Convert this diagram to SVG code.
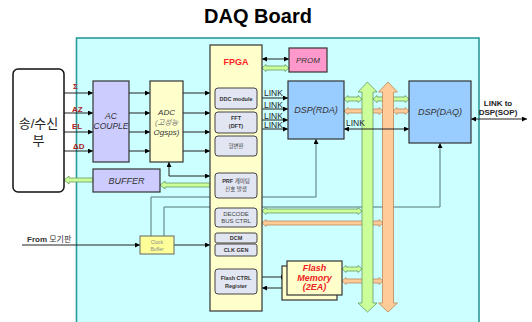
<svg xmlns="http://www.w3.org/2000/svg" width="532" height="322" viewBox="0 0 532 322">
<style>
text{font-family:"Liberation Sans","Noto Sans CJK KR",sans-serif;}
.box{stroke:#333;stroke-width:1.2;}
.sub{fill:#e2e6f2;stroke:#444;stroke-width:1;}
.ln{stroke:#222;stroke-width:1;fill:none;}
.cl{stroke:#557777;stroke-width:1;fill:none;}
.g{fill:#ccff99;stroke:#669966;stroke-width:0.8;}
.o{fill:#ffcc99;stroke:#bb8855;stroke-width:0.8;}
.it{font-style:italic;fill:#333;}
.sb{font-size:5.5px;font-weight:bold;fill:#333;text-anchor:middle;}
.sn{font-size:5.5px;font-weight:normal;fill:#444;text-anchor:middle;}
.sig{font-size:8px;font-weight:bold;fill:#aa2222;}
.lk{font-size:8.5px;fill:#222;}
</style>
<defs>
<marker id="ah" viewBox="0 0 10 10" refX="10" refY="5" markerWidth="5" markerHeight="5" orient="auto-start-reverse" markerUnits="userSpaceOnUse"><path d="M0,0L10,5L0,10z" fill="#000"/></marker>
</defs>
<text x="258" y="23" font-size="20" font-weight="bold" text-anchor="middle" fill="#000">DAQ Board</text>
<rect id="board" x="76.5" y="38" width="402.5" height="290" fill="#ccffff" stroke="#2a9a9a" stroke-width="1.6"/>

<g id="connectors">
<g class="ln" marker-end="url(#ah)">
<line x1="64" y1="93" x2="93" y2="93"/><line x1="64" y1="113" x2="93" y2="113"/><line x1="64" y1="132" x2="93" y2="132"/><line x1="64" y1="151" x2="93" y2="151"/>
<line x1="129" y1="93" x2="150" y2="93"/><line x1="129" y1="113" x2="150" y2="113"/><line x1="129" y1="132" x2="150" y2="132"/><line x1="129" y1="151" x2="150" y2="151"/>
<line x1="183" y1="93" x2="210" y2="93"/><line x1="183" y1="113" x2="210" y2="113"/><line x1="183" y1="132" x2="210" y2="132"/><line x1="183" y1="151" x2="210" y2="151"/>
<line x1="262" y1="98" x2="288" y2="98"/><line x1="262" y1="109" x2="288" y2="109"/><line x1="262" y1="120" x2="288" y2="120"/><line x1="262" y1="129" x2="288" y2="129"/>
<line x1="22" y1="245" x2="140" y2="245"/><line x1="174" y1="245" x2="210" y2="245"/>
<line x1="262" y1="277" x2="286" y2="277"/><line x1="282" y1="288" x2="262" y2="288"/>
</g>
<path class="ln" d="M169,162V176H210" marker-start="url(#ah)" marker-end="url(#ah)"/>
<line class="ln" x1="262" y1="59" x2="289" y2="59" marker-start="url(#ah)" marker-end="url(#ah)"/>
<line class="ln" x1="471" y1="119" x2="527" y2="119" marker-start="url(#ah)" marker-end="url(#ah)"/>
<path class="cl" d="M151,236V197H316V139" marker-end="url(#ah)"/>
<path class="cl" d="M164,236V207H440V143" marker-end="url(#ah)"/>
<polygon class="g" points="64,180 69,176 69,178 93,178 93,182 69,182 69,184"/>
<polygon class="g" points="160,185 165,181 165,183 210,183 210,187 165,187 165,189"/>
<polygon class="g" points="262,68 266,64.5 266,66 285,66 285,64.5 289,68 285,71.5 285,70 266,70 266,71.5"/>
<polygon class="g" points="344,99 348,95.5 348,97 358,97 358,95.5 362,99 358,102.5 358,101 348,101 348,102.5"/>
<polygon class="o" points="344,111 348,107.5 348,109 379,109 379,107.5 383,111 379,114.5 379,113 348,113 348,114.5"/>
<polygon class="g" points="373,99 377,95.5 377,97 405,97 405,95.5 409,99 405,102.5 405,101 377,101 377,102.5"/>
<polygon class="o" points="393,111 397,107.5 397,109 405,109 405,107.5 409,111 405,114.5 405,113 397,113 397,114.5"/>
<polygon class="g" points="262,211 266,207.5 266,209 358,209 358,207.5 362,211 358,214.5 358,213 266,213 266,214.5"/>
<polygon class="o" points="262,223 266,219.5 266,221 379,221 379,219.5 383,223 379,226.5 379,225 266,225 266,226.5"/>
<polygon class="g" points="342,269 346,265.5 346,267 358,267 358,265.5 362,269 358,272.5 358,271 346,271 346,272.5"/>
<polygon class="o" points="342,281 346,277.5 346,279 379,279 379,277.5 383,281 379,284.5 379,283 346,283 346,284.5"/>
</g>

<g id="bus-green"><polygon class="g" points="367.5,82 377,92 373,92 373,303 377,303 367.5,312 358,303 362,303 362,92 358,92"/></g>
<g id="bus-orange"><polygon class="o" points="388,82 397.5,92 393.5,92 393.5,303 397.5,303 388,312 378.5,303 382.5,303 382.5,92 378.5,92"/></g>

<g id="connectors-top">
<line class="ln" x1="344" y1="129" x2="409" y2="129" marker-start="url(#ah)" marker-end="url(#ah)"/>
</g>

<g id="labels">
<text class="sig" x="73" y="89">Σ</text>
<text class="sig" x="72" y="112">AZ</text>
<text class="sig" x="72" y="129">EL</text>
<text class="sig" x="73" y="149">ΔD</text>
<text class="lk" x="264" y="96">LINK</text>
<text class="lk" x="264" y="107.5">LINK</text>
<text class="lk" x="264" y="118.5">LINK</text>
<text class="lk" x="264" y="128">LINK</text>
<text class="lk" x="346" y="126">LINK</text>
<text x="498" y="106" font-size="8" font-weight="bold" text-anchor="middle" fill="#222">LINK to</text>
<text x="498" y="115" font-size="8" font-weight="bold" text-anchor="middle" fill="#222">DSP(SOP)</text>
<text x="27" y="242" font-size="8" fill="#333"><tspan font-weight="bold">From</tspan> 모기판</text>
</g>

<g id="txrx"><rect x="13" y="69" width="51" height="123" rx="5" fill="#fff" stroke="#111" stroke-width="1.5"/>
<text x="38.5" y="128" font-size="13" text-anchor="middle" fill="#222">송/수신</text>
<text x="38.5" y="145" font-size="13" text-anchor="middle" fill="#222">부</text></g>

<g id="ac"><rect class="box" x="93" y="81" width="36" height="81" fill="#ccccff"/>
<text class="it" x="111" y="119" font-size="8.5" text-anchor="middle">AC</text>
<text class="it" x="111" y="128.5" font-size="8.5" text-anchor="middle">COUPLE</text></g>

<g id="adc"><rect class="box" x="150" y="81" width="33" height="81" fill="#ffffcc"/>
<text class="it" x="166.5" y="115" font-size="8" text-anchor="middle">ADC</text>
<text x="166.5" y="125" font-size="7.5" text-anchor="middle" style="font-style:italic;fill:#777">(고성능</text>
<text class="it" x="166.5" y="134.5" font-size="8" text-anchor="middle">Ogsps)</text></g>

<g id="buffer"><rect class="box" x="93" y="169" width="67" height="23" fill="#ccccff"/>
<text class="it" x="126.5" y="184" font-size="9" text-anchor="middle">BUFFER</text></g>

<g id="clockbuf"><rect x="140" y="236" width="34" height="18" fill="#ffff99" stroke="#666" stroke-width="1"/>
<text x="157" y="244" font-size="5" text-anchor="middle" fill="#888">Clock</text>
<text x="157" y="250.5" font-size="5" text-anchor="middle" fill="#888">Buffer</text></g>

<g id="fpga"><rect class="box" x="210" y="45" width="52" height="266" fill="#ffffcc"/>
<text x="236" y="65" font-size="9" font-weight="bold" text-anchor="middle" fill="#ff2222">FPGA</text>
<rect class="sub" x="215" y="88" width="42" height="21" rx="3"/><text class="sb" x="236" y="100.5">DDC module</text>
<rect class="sub" x="215" y="112" width="42" height="21" rx="3"/><text class="sb" x="236" y="120">FFT</text><text class="sb" x="236" y="127.5">(DFT)</text>
<rect class="sub" x="215" y="136" width="42" height="20" rx="3"/><text class="sn" x="236" y="148">형변환</text>
<rect class="sub" x="215" y="173" width="42" height="25" rx="3"/><text class="sb" x="236" y="183">PRF <tspan style="font-weight:normal">게이팅</tspan></text><text class="sn" x="236" y="191">신호 발생</text>
<rect class="sub" x="215" y="208" width="42" height="19" rx="3"/><text class="sn" x="236" y="215.5" style="font-size:6px">DECODE</text><text class="sn" x="236" y="223" style="font-size:6px">BUS CTRL</text>
<rect class="sub" x="215" y="233" width="42" height="10" rx="2"/><text class="sb" x="236" y="240">DCM</text>
<rect class="sub" x="215" y="244" width="42" height="12" rx="2"/><text class="sb" x="236" y="252">CLK GEN</text>
<rect class="sub" x="215" y="269" width="42" height="25" rx="3"/><text class="sb" x="236" y="280">Flash CTRL</text><text class="sb" x="236" y="287.5">Register</text></g>

<g id="prom"><rect class="box" x="289" y="48" width="38" height="24" fill="#ff99cc"/>
<text class="it" x="308" y="63" font-size="8" text-anchor="middle">PROM</text></g>

<g id="dsp-rda"><rect class="box" x="288" y="81" width="56" height="58" fill="#99ccff"/>
<text class="it" x="316" y="113" font-size="9" text-anchor="middle">DSP(RDA)</text></g>

<g id="dsp-daq"><rect class="box" x="409" y="81" width="62" height="62" fill="#99ccff"/>
<text class="it" x="440" y="115" font-size="9" text-anchor="middle">DSP(DAQ)</text></g>

<g id="flash"><rect class="box" x="282" y="266" width="55" height="34" fill="#ffffcc"/>
<rect class="box" x="287" y="261" width="55" height="34" fill="#ffffcc"/>
<text x="314.5" y="271" font-size="9" font-weight="bold" font-style="italic" text-anchor="middle" fill="#ee2222">Flash</text>
<text x="314.5" y="280.5" font-size="9" font-weight="bold" font-style="italic" text-anchor="middle" fill="#ee2222">Memory</text>
<text x="314.5" y="290" font-size="9" font-weight="bold" font-style="italic" text-anchor="middle" fill="#ee2222">(2EA)</text></g>
</svg>
